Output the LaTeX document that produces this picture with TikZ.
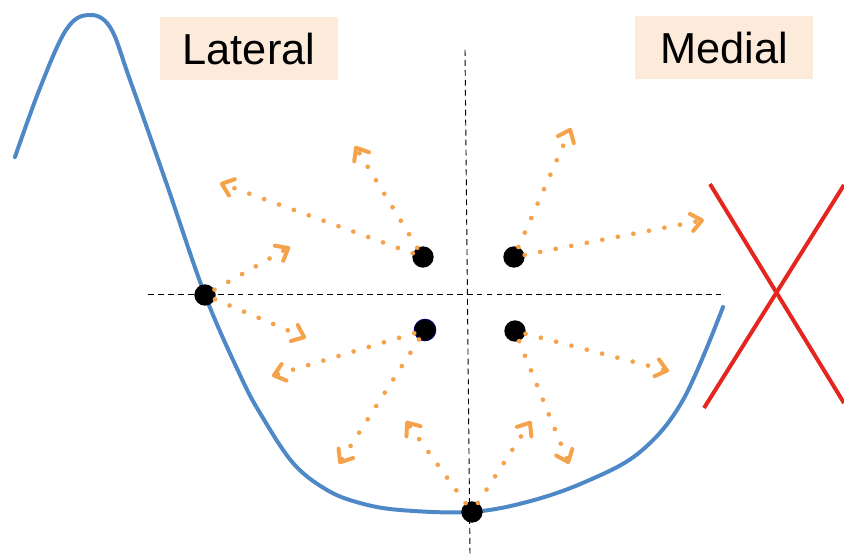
\documentclass[tikz,border=0pt]{standalone}
\usepackage{fontspec}
\setmainfont{Liberation Sans}
\usetikzlibrary{arrows.meta}

\begin{document}
\begin{tikzpicture}[x=0.3mm, y=-0.3mm,
    dot/.style={circle, fill=black, minimum size=6.4mm, inner sep=0pt},
    labelbox/.style={fill=boxColour, minimum width=53.4mm, minimum height=18.9mm, inner sep=0pt, font=\fontsize{37}{40}\selectfont},
    guide/.style={black, line width=0.8pt, dash pattern=on 5pt off 3.5pt},
    push/.style={arrowColour, line width=4pt, line cap=round, dash pattern=on 0pt off 13.5pt,
        -{Straight Barb[length=3.2mm, width=5.2mm, line width=3.4pt, round]}}]
    \definecolor{curveColour}{HTML}{4E88C7}
    \definecolor{arrowColour}{HTML}{F5A24B}
    \definecolor{crossColour}{HTML}{E5261F}
    \definecolor{boxColour}{HTML}{FCEADB}

    \useasboundingbox (0,0) rectangle (844,554);

    % Labels
    \node[labelbox] (lateral) at (249,49) {Lateral};
    \node[labelbox] (medial) at (724,48) {Medial};

    % Guide lines
    \draw[guide] (148,294) -- (722,294);
    \draw[guide] (465,50) -- (470,554);

    % Profile curve
    \draw[curveColour, line width=3.4pt, line cap=round] plot[smooth, tension=0.6] coordinates {
        (15,157) (40,88) (66,30) (88,15) (110,27) (130,80) (167,185) (205,295)
        (240,375) (260,413) (293,463) (327,490) (360,503) (400,510) (470,512)
        (527,502) (585,482) (640,452) (683,400) (723,307)};

    % Red cross
    \draw[crossColour, line width=3.4pt] (710,184) -- (844,403);
    \draw[crossColour, line width=3.4pt] (704,408) -- (844,185);

    % Points
    \node[dot] (edge) at (205,295) {};
    \node[dot] (upLat) at (423,257) {};
    \node[dot] (upMed) at (514,257) {};
    \node[dot, draw=blue!35!black, line width=1pt] (lowLat) at (425,330) {};
    \node[dot] (lowMed) at (515,331) {};
    \node[dot] (bottom) at (472,512) {};

    % Arrow tips
    \coordinate (e1) at (290,247);
    \coordinate (e2) at (306,338);
    \coordinate (a1) at (355,146);
    \coordinate (a2) at (220,183);
    \coordinate (b1) at (571,128);
    \coordinate (b2) at (704,220);
    \coordinate (c1) at (272,376);
    \coordinate (c2) at (339,464);
    \coordinate (d1) at (669,371);
    \coordinate (d2) at (569,464);
    \coordinate (f1) at (406,421);
    \coordinate (f2) at (531,421);

    % Directions
    \draw[push] (edge) -- (e1);
    \draw[push] (edge) -- (e2);
    \draw[push] (upLat) -- (a1);
    \draw[push] (upLat) -- (a2);
    \draw[push] (upMed) -- (b1);
    \draw[push] (upMed) -- (b2);
    \draw[push] (lowLat) -- (c1);
    \draw[push] (lowLat) -- (c2);
    \draw[push] (lowMed) -- (d1);
    \draw[push] (lowMed) -- (d2);
    \draw[push] (bottom) -- (f1);
    \draw[push] (bottom) -- (f2);

\end{tikzpicture}
\end{document}
